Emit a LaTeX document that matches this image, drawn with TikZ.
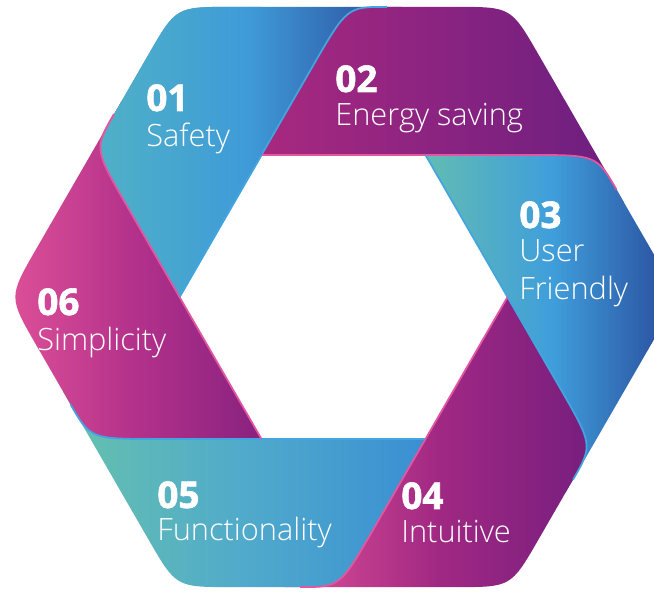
\documentclass[tikz,border=0pt]{standalone}
\usepackage{fontspec}
\setmainfont{Open Sans}
\newfontfamily\lightfont{Open Sans Light}
\newfontfamily\heavyfont{Open Sans}[BoldFeatures={FakeBold=1.6}]
\usetikzlibrary{calc,positioning}

\definecolor{oneL}{HTML}{50B1C6}
\definecolor{oneM}{HTML}{3F9BD8}
\definecolor{oneR}{HTML}{29499A}
\definecolor{twoL}{HTML}{A8297F}
\definecolor{twoM}{HTML}{8A2381}
\definecolor{twoR}{HTML}{6A1F7F}
\definecolor{threeL}{HTML}{62BCB3}
\definecolor{threeM}{HTML}{3F9EDB}
\definecolor{threeR}{HTML}{28489A}
\definecolor{fourL}{HTML}{DC4F96}
\definecolor{fourM}{HTML}{A02883}
\definecolor{fourR}{HTML}{761E7E}
\definecolor{fiveL}{HTML}{66C1AD}
\definecolor{fiveM}{HTML}{50AACB}
\definecolor{fiveR}{HTML}{3A8FD3}
\definecolor{sixL}{HTML}{DD5098}
\definecolor{sixM}{HTML}{B3318B}
\definecolor{sixR}{HTML}{88227F}
\definecolor{hlblue}{HTML}{42A5E0}
\definecolor{hlpink}{HTML}{E2579F}

% one ribbon piece: start angle, gradient (left, middle, right), rim colours
\newcommand{\ribbon}[6]{%
  \coordinate (I) at (#1:164);
  \coordinate (J) at (#1-60:164);
  \coordinate (V) at (#1-60:335);
  \coordinate (C) at ($(#1:164)+(#1-60:171)$);
  \coordinate (P) at ($(#1-60:164)+(#1-120:171)+(#1-180:55)$);
  \shade[left color=#2, right color=#4, middle color=#3]
    (I) -- (J) -- (P) -- ($(V)!1.1cm!(P)$) .. controls (V) .. ($(V)!1.1cm!(C)$)
    -- ($(C)!0.8cm!(V)$) .. controls (C) .. ($(C)!1.35cm!(I)$) -- cycle;
  \draw[rim, #5] (I) -- ($(C)!1.35cm!(I)$) .. controls (C) .. ($(C)!0.8cm!(V)$);
  \draw[rim, #6] (I) -- (J);
}

\begin{document}
\begin{tikzpicture}[x=0.02cm, y=0.02cm,
  rim/.style={line width=1pt},
  numlbl/.style={text=white, inner sep=0pt, anchor=base west, font=\heavyfont\bfseries\fontsize{21}{24}\selectfont},
  textlbl/.style={text=white, inner sep=0pt, anchor=base west, font=\lightfont\fontsize{17.5}{20}\selectfont}
]
\useasboundingbox (-343.5,-295) rectangle (310.5,297);
\fill[white] (-343.5,-295) rectangle (310.5,297);
\clip (-343.5,-295) rectangle (310.5,297);

% six ribbon pieces, clockwise from the upper left
\foreach \ang/\colL/\colM/\colR/\hlP/\hlO in {180/oneL/oneM/oneR/hlpink/hlblue,
    120/twoL/twoM/twoR/hlblue/hlpink, 60/threeL/threeM/threeR/hlpink/hlblue,
    0/fourL/fourM/fourR/hlblue/hlpink, -60/fiveL/fiveM/fiveR/hlpink/hlblue,
    -120/sixL/sixM/sixR/hlblue/hlpink}
  {\ribbon{\ang}{\colL}{\colM}{\colR}{\hlP}{\hlO}}

% piece 01 again, over the end of piece 06
\begin{scope}
  \clip (-343.5,-100) rectangle (-82,297);
  \ribbon{180}{oneL}{oneM}{oneR}{hlpink}{hlblue}
\end{scope}

\node[numlbl] (n1) at (-197.5,186) {01};
\node[textlbl] (t1) at ([yshift=-0.72cm]n1.base west) {Safety};
\node[numlbl] (n2) at (-8.5,205) {02};
\node[textlbl] (t2) at ([yshift=-0.68cm]n2.base west) {Energy saving};
\node[numlbl] (n3) at (175.5,69) {03};
\node[textlbl] (t3) at ([yshift=-0.68cm]n3.base west) {User};
\node[textlbl] (t3b) at ([yshift=-0.76cm]t3.base west) {Friendly};
\node[numlbl] (n4) at (57.5,-212) {04};
\node[textlbl] (t4) at ([yshift=-0.68cm]n4.base west) {Intuitive};
\node[numlbl] (n5) at (-186.5,-211) {05};
\node[textlbl] (t5) at ([yshift=-0.66cm]n5.base west) {Functionality};
\node[numlbl] (n6) at (-306.5,-18) {06};
\node[textlbl] (t6) at ([yshift=-0.72cm]n6.base west) {Simplicity};
\end{tikzpicture}
\end{document}
